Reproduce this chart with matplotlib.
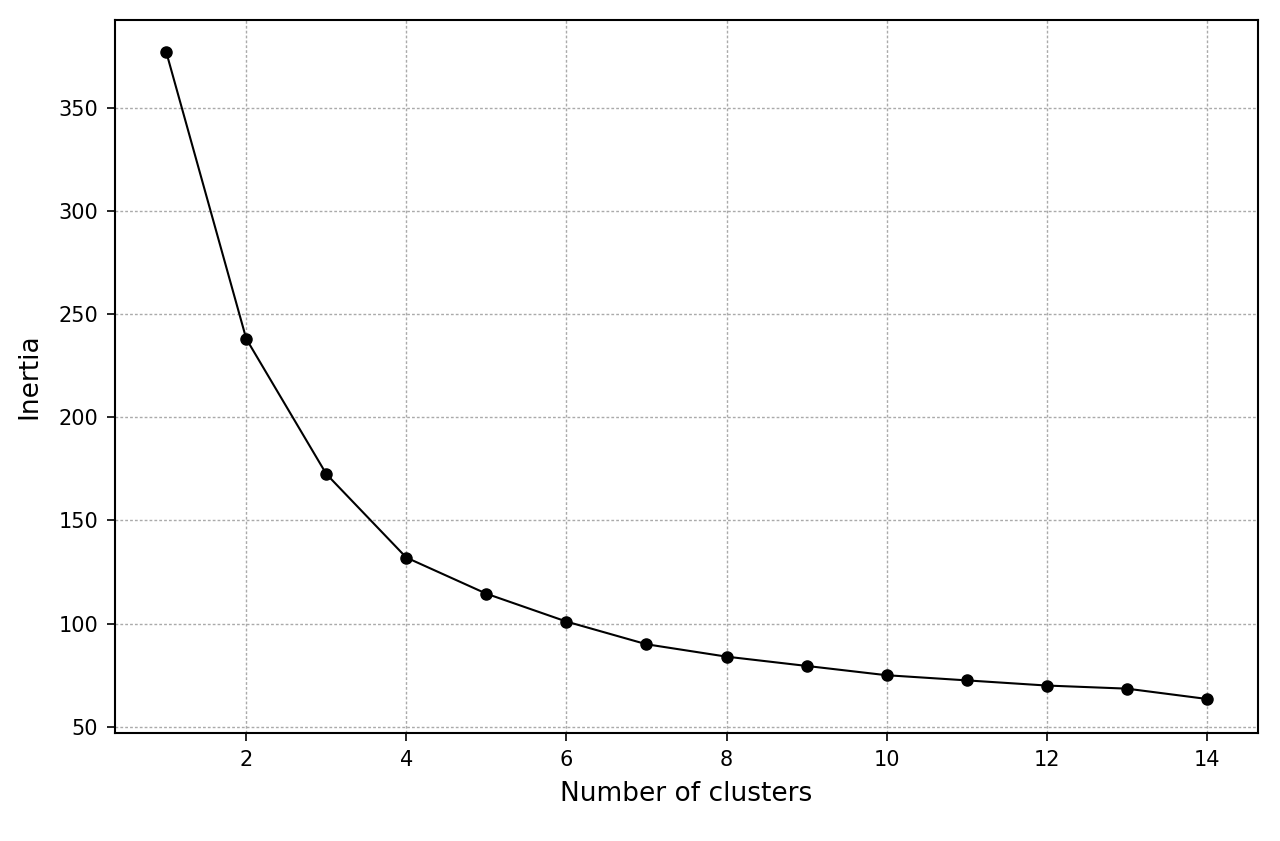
import matplotlib
matplotlib.use("Agg")
import matplotlib.pyplot as plt

clusters = list(range(1, 15))
inertia = [377, 238, 172.5, 132, 114.5, 101, 90, 84, 79.5, 75, 72.5, 70, 68.5, 63.5]

fig = plt.figure(figsize=(12.8, 8.41), dpi=100)
ax = fig.add_axes([115/1280, 1-733/841, (1258-115)/1280, (733-20)/841])
ax.plot(clusters, inertia, color="black", marker="o", markersize=8, linewidth=1.5)
ax.set_xlim(0.36, 14.64)
ax.set_ylim(47, 392.5)
ax.set_xticks([2, 4, 6, 8, 10, 12, 14])
ax.set_yticks([50, 100, 150, 200, 250, 300, 350])
ax.grid(True, linestyle=(0, (2, 1.5)), color="#aaaaaa", linewidth=1)
ax.tick_params(labelsize=15, length=6, width=1.2, pad=6)
for s in ax.spines.values():
    s.set_linewidth(1.5)
ax.set_xlabel("Number of clusters", fontsize=19, labelpad=8)
ax.set_ylabel("Inertia", fontsize=19, labelpad=12)
fig.savefig("out.png", dpi=100)
